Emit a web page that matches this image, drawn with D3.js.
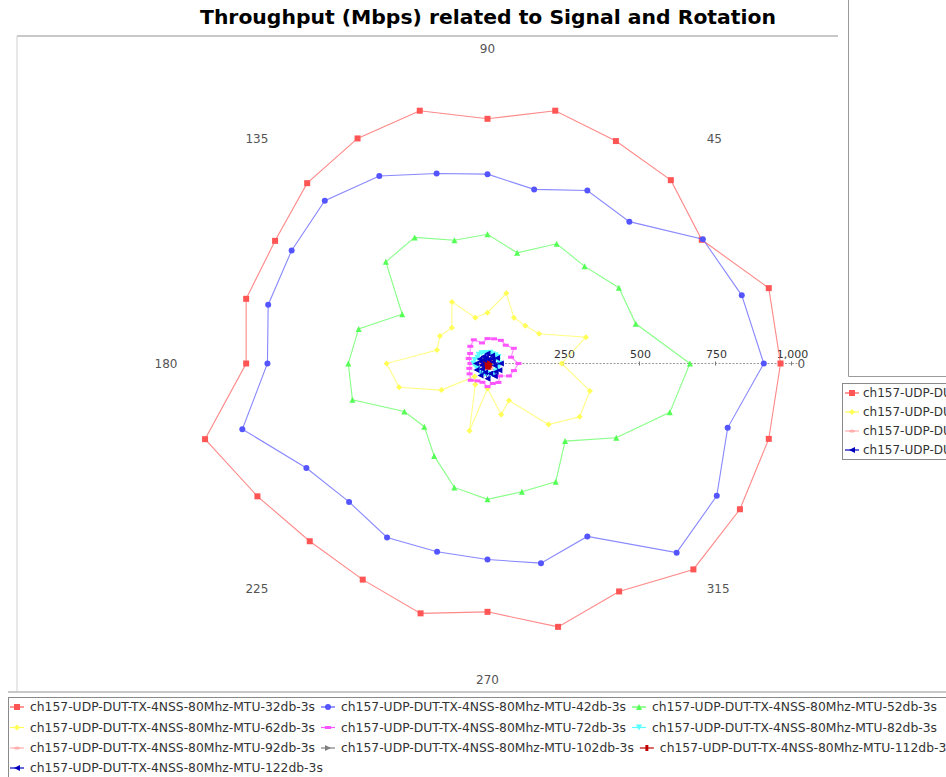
<!DOCTYPE html>
<html>
<head>
<meta charset="utf-8">
<script src="https://cdn.jsdelivr.net/npm/d3@7/dist/d3.min.js"></script>
<style>
  html, body { margin: 0; padding: 0; background: #ffffff; }
  svg { display: block; font-family: "DejaVu Sans", sans-serif; }
</style>
</head>
<body>
<svg id="chart" width="946" height="777"></svg>
<script>
// Rotation angles (degrees) at which throughput was sampled
const angles = [0, 15, 30, 45, 60, 75, 90, 105, 120, 135, 150, 165,
                180, 195, 210, 225, 240, 255, 270, 285, 300, 315, 330, 345];

const seriesNames = [
  "ch157-UDP-DUT-TX-4NSS-80Mhz-MTU-32db-3s",
  "ch157-UDP-DUT-TX-4NSS-80Mhz-MTU-42db-3s",
  "ch157-UDP-DUT-TX-4NSS-80Mhz-MTU-52db-3s",
  "ch157-UDP-DUT-TX-4NSS-80Mhz-MTU-62db-3s",
  "ch157-UDP-DUT-TX-4NSS-80Mhz-MTU-72db-3s",
  "ch157-UDP-DUT-TX-4NSS-80Mhz-MTU-82db-3s",
  "ch157-UDP-DUT-TX-4NSS-80Mhz-MTU-92db-3s",
  "ch157-UDP-DUT-TX-4NSS-80Mhz-MTU-102db-3s",
  "ch157-UDP-DUT-TX-4NSS-80Mhz-MTU-112db-3s",
  "ch157-UDP-DUT-TX-4NSS-80Mhz-MTU-122db-3s"
];

// Throughput in Mbps, one value per angle
const tp32  = [964, 958, 814, 853, 845, 861, 805, 861, 855, 839, 807, 822,
               794, 962, 874, 827, 821, 851, 817, 897, 866, 958, 959, 958];
const tp42  = [909, 866, 818, 660, 657, 593, 623, 647, 712, 757, 744, 747,
               724, 835, 688, 644, 661, 641, 645, 680, 657, 880, 871, 818];
const tp52  = [666, 505, 499, 452, 455, 377, 425, 420, 479, 473, 324, 439,
               458, 460, 316, 294, 351, 422, 447, 437, 449, 361, 489, 621];
const tp62  = [244, 335, 196, 176, 174, 239, 167, 156, 234, 166, 181, 172,
               332, 301, 175,  60,  80, 229,  82, 174, 141, 284, 350, 349];
const tp72  = [102,  80, 100,  85,  88,  84,  82,  70,  90,  80,  66,  64,
                56,  62,  68,  78,  66,  64,  76,  68,  72,  58,  82,  90];
const tp82  = [ 40,  36,  42,  38,  35,  37,  33,  36,  39,  41,  38,  44,
                46,  40,  35,  37,  39,  36,  34,  38,  40,  37,  35,  39];
const tp92  = [ 18,  14,  20,  16,  12,  17,  15,  13,  19,  16,  14,  18,
                20,  15,  12,  16,  18,  14,  13,  17,  19,  15,  12,  16];
const tp102 = [ 10,   8,  12,   9,   7,  11,   8,  10,   9,  12,   8,  10,
                11,   9,   7,  10,  12,   8,   9,  11,  10,   8,   9,  11];
const tp112 = [  5,   9,   6,  11,   8,   4,  10,   7,  12,   6,   9,   5,
                 8,  11,   7,  10,   5,  10,   6,   9,  12,   7,  10,   8];
const tp122 = [ 44,  18,  36,  22,  30,  14,  33,  20,  27,  16,  30,  24,
                38,  20,  42,  26,  46,  30,  50,  34,  48,  38,  45,  24];

const seriesValues = [tp32, tp42, tp52, tp62, tp72, tp82, tp92, tp102, tp112, tp122];

// Angular labels and radial axis ticks
const angleTicks = [0, 45, 90, 135, 180, 225, 270, 315];
const radialTicks = [250, 500, 750, 1000];

const colors = ["#FF5555", "#5555FF", "#55FF55", "#FFFF55", "#FF55FF",
                "#55FFFF", "#FFAFAF", "#808080", "#C00000", "#0000C0"];
const shapeKinds = ["square", "circle", "up", "diamond", "hrect",
                    "down", "ellipse", "right", "vrect", "left"];

function shapePath(kind) {
  switch (kind) {
    case "square":  return "M-3,-3h6v6h-6Z";
    case "circle":  return "M3,0A3,3 0 1 1 -3,0A3,3 0 1 1 3,0Z";
    case "up":      return "M0,-3L3,3L-3,3Z";
    case "diamond": return "M0,-3L3,0L0,3L-3,0Z";
    case "hrect":   return "M-3,-1.5h6v3h-6Z";
    case "down":    return "M-3,-3L3,-3L0,3Z";
    case "ellipse": return "M3,0A3,1.5 0 1 1 -3,0A3,1.5 0 1 1 3,0Z";
    case "right":   return "M-3,-3L3,0L-3,3Z";
    case "vrect":   return "M-1.5,-3h3v6h-3Z";
    case "left":    return "M3,-3L-3,0L3,3Z";
  }
}

const svg = d3.select("#chart");
const W = 946;

// Frame of the chart panel
svg.append("line").attr("x1", 17).attr("x2", 838).attr("y1", 36).attr("y2", 36)
  .attr("stroke", "#c8c8c8").attr("stroke-width", 2);
svg.append("line").attr("x1", 17).attr("x2", 17).attr("y1", 36).attr("y2", 691)
  .attr("stroke", "#d0d0d0").attr("stroke-width", 1);
svg.append("line").attr("x1", 8).attr("x2", W).attr("y1", 692).attr("y2", 692)
  .attr("stroke", "#c8c8c8").attr("stroke-width", 2);
// neighbouring panel edge on the right
svg.append("path").attr("d", "M848.5,0V376.5H946")
  .attr("fill", "none").attr("stroke", "#9a9a9a").attr("stroke-width", 1);

// Title
svg.append("text")
  .attr("x", 488).attr("y", 24)
  .attr("text-anchor", "middle")
  .attr("font-size", 19).attr("font-weight", "bold").attr("fill", "#000")
  .attr("textLength", 576).attr("lengthAdjust", "spacingAndGlyphs")
  .text("Throughput (Mbps) related to Signal and Rotation");

// Polar geometry
const cx = 487.5, cy = 363.5;
const r = d3.scaleLinear().domain([0, 1010]).range([0, 307]);
const theta = d3.scaleLinear().domain([0, 360]).range([Math.PI / 2, Math.PI / 2 - 2 * Math.PI]);

const plot = svg.append("g").attr("transform", `translate(${cx},${cy})`);

// Radial axis along 0 degrees
plot.append("line").attr("x1", 0).attr("y1", 0).attr("x2", r(1010) + 4).attr("y2", 0)
  .attr("stroke", "#9a9a9a").attr("stroke-width", 1).attr("stroke-dasharray", "2,1.5");
plot.selectAll(".rtick").data(radialTicks).join("line")
  .attr("x1", d => r(d)).attr("x2", d => r(d)).attr("y1", -2).attr("y2", 2)
  .attr("stroke", "#777");
plot.selectAll(".rlabel").data(radialTicks).join("text")
  .attr("x", d => r(d) + 1).attr("y", -6)
  .attr("text-anchor", "middle").attr("font-size", 11).attr("fill", "#333")
  .text(d => d3.format(",")(d));

// Angular labels, anchored outside the circle
const labelR = 310;
plot.selectAll(".alabel").data(angleTicks).join("text")
  .attr("x", d => labelR * Math.cos(d * Math.PI / 180))
  .attr("y", d => -labelR * Math.sin(d * Math.PI / 180))
  .attr("text-anchor", d => {
    const c = Math.cos(d * Math.PI / 180);
    return c > 0.01 ? "start" : (c < -0.01 ? "end" : "middle");
  })
  .attr("dy", d => {
    const s = Math.sin(d * Math.PI / 180);
    return s > 0.01 ? "-1" : (s < -0.01 ? "10" : "4.5");
  })
  .attr("font-size", 12).attr("fill", "#555")
  .text(d => d);

// Series: closed polygon lines with markers
const radial = d3.lineRadial()
  .angle(d => theta(d[0]))
  .radius(d => r(d[1]))
  .curve(d3.curveLinearClosed);

seriesValues.forEach((vals, i) => {
  const pts = angles.map((a, j) => [a, vals[j]]);
  const g = plot.append("g");
  g.append("path")
    .attr("d", radial(pts))
    .attr("fill", "none")
    .attr("stroke", colors[i])
    .attr("stroke-opacity", 0.7)
    .attr("stroke-width", 1.1);
  g.selectAll("path.m").data(pts).join("path").attr("class", "m")
    .attr("d", shapePath(shapeKinds[i]))
    .attr("transform", d => {
      const a = theta(d[0]);
      const rr = r(d[1]);
      return `translate(${rr * Math.sin(a)},${-rr * Math.cos(a)})`;
    })
    .attr("fill", colors[i]);
});

// Legend item renderer: short line + shape + label
function legendItem(g, i, x, y) {
  const item = g.append("g").attr("transform", `translate(${x},${y})`);
  item.append("line").attr("x1", 0).attr("x2", 14).attr("y1", 0).attr("y2", 0)
    .attr("stroke", colors[i]).attr("stroke-width", 1.2);
  item.append("path").attr("d", shapePath(shapeKinds[i]))
    .attr("transform", "translate(7,0)").attr("fill", colors[i]);
  const t = item.append("text").attr("x", 20).attr("y", 4.3)
    .attr("font-size", 12).attr("fill", "#333").text(seriesNames[i]);
  return t;
}

// Bottom legend: flow layout, three items per row
svg.append("rect").attr("x", 8.5).attr("y", 697.5).attr("width", W).attr("height", 90)
  .attr("fill", "none").attr("stroke", "#8a8a8a");
const bottom = svg.append("g");
const rowY = [707, 727.5, 748, 768];
let widthScale = null;
let xCursor = 10, lastRow = -1;
seriesNames.forEach((name, i) => {
  const row = Math.floor(i / 3);
  if (row !== lastRow) { xCursor = 10; lastRow = row; }
  const t = legendItem(bottom, i, xCursor, rowY[row]);
  const w = t.node().getComputedTextLength();
  if (widthScale === null) widthScale = 285 / w;
  const tw = w * widthScale;
  t.attr("textLength", tw).attr("lengthAdjust", "spacingAndGlyphs");
  xCursor += 20 + tw + 6;
});

// Right-hand legend (partially visible)
svg.append("rect").attr("x", 842.5).attr("y", 383.5).attr("width", 120).attr("height", 76)
  .attr("fill", "#fff").attr("stroke", "#8a8a8a");
const side = svg.append("g");
[0, 3, 6, 9].forEach((si, k) => {
  const t = legendItem(side, si, 845, 393 + k * 19);
  t.attr("x", 18);
});
</script>
</body>
</html>
